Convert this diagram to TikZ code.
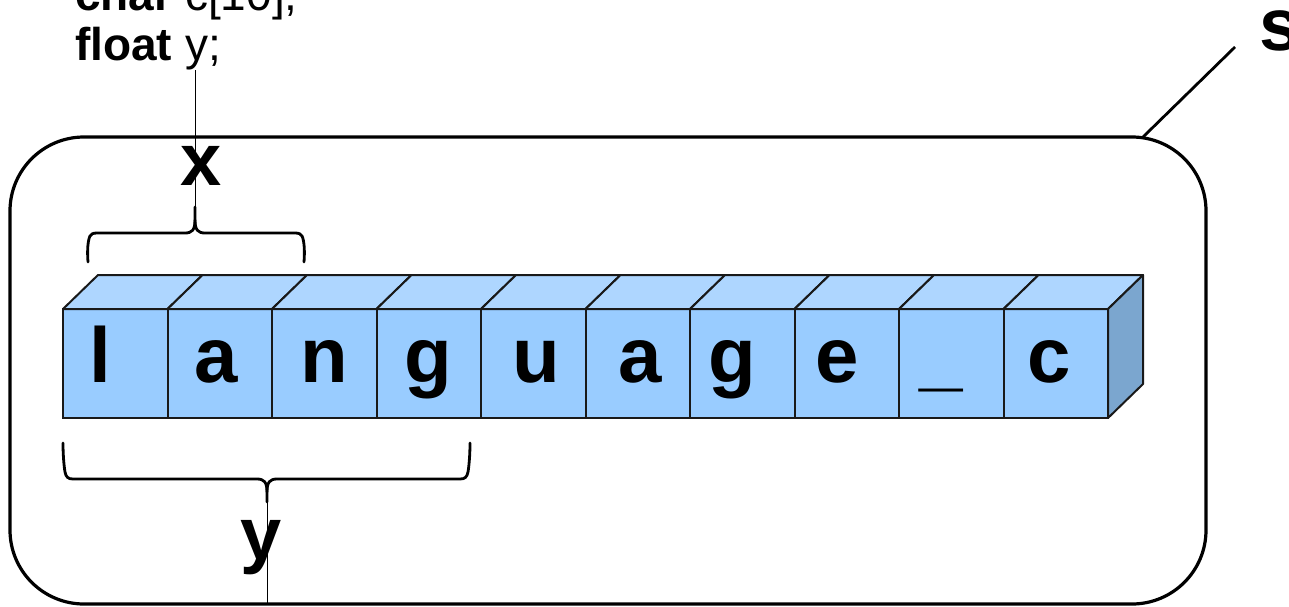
\documentclass[tikz,border=0pt]{standalone}
\usepackage{fontspec}
\setmainfont{Liberation Sans}
\definecolor{frontc}{HTML}{99CCFF}
\definecolor{topc}{HTML}{AED6FF}
\definecolor{sidec}{HTML}{7BA6CF}
\begin{document}
\begin{tikzpicture}[x=1pt,y=-1pt,
  cell/.style={draw=black!90, line width=2pt, fill=frontc, minimum width=104.5pt,
    minimum height=109pt, inner sep=0pt, outer sep=0pt, anchor=north west},
  letter/.style={font=\fontsize{78}{82}\selectfont\bfseries, inner sep=0pt, anchor=base},
  face/.style={draw=black!90, line width=2pt, line join=round},
  brace/.style={line width=2.8pt, line join=round, line cap=round},
  thinline/.style={line width=0.9pt},
  big/.style={font=\fontsize{74}{78}\selectfont\bfseries, inner sep=0pt},
  decl/.style={font=\fontsize{46}{50}\selectfont, inner sep=0pt, anchor=base west},
  outline/.style={draw, line width=3.2pt, rounded corners=74pt, minimum width=1196pt,
    minimum height=467pt, anchor=north west, inner sep=0pt, outer sep=0pt},
]
\useasboundingbox (0,0) rectangle (1289,606);
\clip (0,0) rectangle (1289,606);

% outer rounded box
\node[outline] (box) at (10,137) {};

% declarations
\node[decl] (decl1) at (75,10) {\bfseries char\mdseries{} c[10];};
\node[decl] (decl2) at (75,60) {\bfseries float\mdseries{} y;};

% cells
\foreach \i/\t/\dx in {0/l/-15,1/a/-4,2/n/0,3/g/0,4/u/3,5/a/2,6/g/-10,7/e/-10,8/\_/-10,9/c/-7}{
  \node[cell] (c\i) at ({63+104.5*\i},309) {};
  \draw[face, fill=topc] (c\i.north west) -- ++(35,-34) -- ++(104.5,0) -- (c\i.north east) -- cycle;
  \node[letter] (t\i) at ({63+104.5*\i+52.25+\dx},382) {\t};
}
\draw[face, fill=sidec] (c9.north east) -- ++(35,-34) -- ++(0,109) -- (c9.south east) -- cycle;

% top brace (x)
\coordinate (xtip) at (195,207);
\draw[brace] (88,262) .. controls (87,250) and (88,240) .. (90,236)
  .. controls (91,234) and (93,233) .. (97,233) -- (185,233)
  .. controls (192,233) and (195,230) .. (195,220) -- (xtip);
\draw[brace] (304,262) .. controls (305,250) and (304,240) .. (302,236)
  .. controls (301,234) and (299,233) .. (295,233) -- (205,233)
  .. controls (198,233) and (195,230) .. (195,220);
\node[big, anchor=base] (xl) at (201,185) {x};

% bottom brace (y)
\coordinate (ytip) at (267,502);
\draw[brace] (63,443) .. controls (63,455) and (64,466) .. (65,472)
  .. controls (66,477) and (68,479) .. (73,479) -- (257,479)
  .. controls (264,479) and (267,482) .. (267,492) -- (ytip);
\draw[brace] (470,443) .. controls (470,455) and (469,466) .. (468,472)
  .. controls (467,477) and (465,479) .. (460,479) -- (277,479)
  .. controls (270,479) and (267,482) .. (267,492);
\node[big, anchor=base] (yl) at (261,559) {y};

% s label
\node[big, anchor=base west] (sl) at (1259,50) {s};
\coordinate (scorner) at (1143,137);
\coordinate (send) at (1235,47);
\draw[line width=2.8pt] (scorner) -- (send);

% thin leader lines
\coordinate (yfoot) at (195,70);
\draw[thinline] (yfoot) -- (xtip);
\coordinate (boxfoot) at (267,604);
\draw[thinline] (ytip) -- (boxfoot);
\end{tikzpicture}
\end{document}
